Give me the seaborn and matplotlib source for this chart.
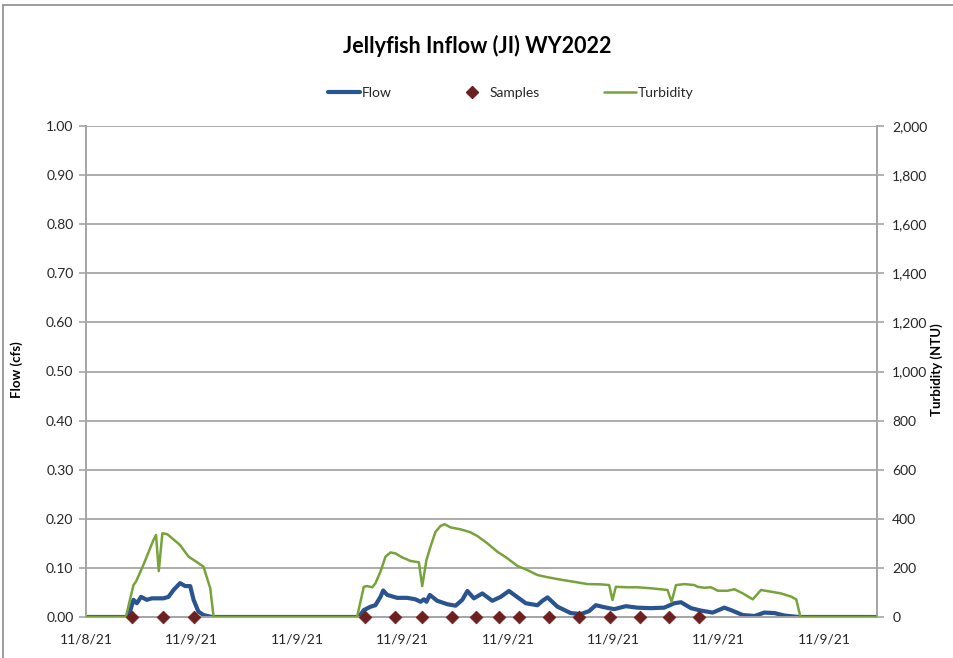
import numpy as np
import pandas as pd
import matplotlib
matplotlib.use("Agg")
import matplotlib.pyplot as plt
from matplotlib.lines import Line2D
from matplotlib.ticker import MultipleLocator, FuncFormatter
import seaborn as sns


# DATA (x = hours from axis start)

flow_t = [0.0, 2.01, 2.25, 2.41, 2.61, 2.88, 3.12, 3.67, 3.91, 4.15, 4.46, 4.70, 4.94,
          5.10, 5.33, 5.57, 5.97, 12.93, 13.17, 13.49, 13.72, 13.96, 14.09, 14.28, 14.75,
          15.23, 15.62, 15.86, 16.02, 16.14, 16.30, 16.65, 17.13, 17.52, 17.84, 18.08,
          18.39, 18.79, 19.26, 19.66, 20.05, 20.37, 20.85, 21.40, 21.64, 21.88, 22.35,
          22.98, 23.46, 23.85, 24.17, 24.56, 25.04, 25.59, 26.15, 26.78, 27.41, 27.89,
          28.21, 28.68, 29.16, 29.71, 30.26, 30.58, 31.14, 31.69, 32.16, 32.64, 33.11,
          33.78, 37.5]
flow_cfs = [0.0, 0.0, 0.035, 0.028, 0.041, 0.035, 0.038, 0.038, 0.041, 0.055, 0.069, 0.063,
            0.063, 0.035, 0.011, 0.004, 0.0, 0.0, 0.014, 0.021, 0.024, 0.041, 0.054, 0.045,
            0.039, 0.039, 0.036, 0.031, 0.036, 0.031, 0.045, 0.033, 0.026, 0.023, 0.035,
            0.053, 0.038, 0.048, 0.033, 0.041, 0.053, 0.043, 0.028, 0.024, 0.033, 0.040,
            0.021, 0.008, 0.006, 0.012, 0.024, 0.020, 0.016, 0.022, 0.019, 0.018, 0.019,
            0.028, 0.030, 0.018, 0.013, 0.009, 0.019, 0.014, 0.004, 0.002, 0.009, 0.008,
            0.003, 0.0, 0.0]

turb_t = [0.0, 1.89, 2.25, 2.37, 2.72, 3.20, 3.32, 3.45, 3.62, 3.86, 4.46, 4.86, 5.18,
          5.57, 5.89, 6.05, 12.85, 13.17, 13.33, 13.57, 13.72, 13.96, 14.20, 14.44, 14.67,
          14.99, 15.39, 15.78, 15.94, 16.14, 16.33, 16.57, 16.81, 17.00, 17.28, 17.76,
          18.23, 18.55, 19.03, 19.50, 19.98, 20.45, 20.93, 21.40, 21.88, 22.51, 23.30,
          23.78, 24.41, 24.80, 24.96, 25.12, 25.67, 26.15, 26.78, 27.57, 27.76, 27.97,
          28.36, 28.84, 29.00, 29.31, 29.63, 29.95, 30.42, 30.74, 31.14, 31.61, 32.00,
          32.48, 32.95, 33.43, 33.67, 33.87, 37.5]
turb_ntu = [0, 0, 130, 144, 212, 314, 334, 187, 341, 337, 293, 246, 228, 205, 117, 0,
            0, 123, 126, 121, 137, 185, 246, 263, 259, 243, 228, 223, 126, 232, 286, 347,
            371, 378, 365, 357, 345, 330, 300, 266, 239, 208, 191, 171, 162, 152, 141,
            134, 133, 130, 69, 123, 121, 121, 117, 110, 62, 130, 134, 130, 123, 119, 121,
            107, 107, 113, 96, 72, 110, 103, 96, 83, 72, 0, 0]

sample_t = [2.18, 3.63, 5.10, 13.25, 14.67, 15.94, 17.37, 18.47, 19.58, 20.53, 21.95,
            23.36, 24.83, 26.26, 27.65, 29.07]

x_labels = ["11/8/21", "11/9/21", "11/9/21", "11/9/21", "11/9/21", "11/9/21",
            "11/9/21", "11/9/21"]

flow_df = pd.DataFrame({"t": flow_t, "flow": flow_cfs})
turb_df = pd.DataFrame({"t": turb_t, "turb": turb_ntu})
samp_df = pd.DataFrame({"t": sample_t, "y": [0.0] * len(sample_t)})


# STYLE

sns.set_style("white")
plt.rcParams["font.family"] = ["Lato", "DejaVu Sans"]

FLOW_C = "#2a5490"
TURB_C = "#77a33a"
SAMP_C = "#6e1f1f"
GRID_C = "#a6a6a6"
TEXT_C = "#262626"

fig = plt.figure(figsize=(9.54, 6.58), dpi=100)
ax = fig.add_axes([86 / 954, 1 - 617 / 658, (877 - 86) / 954, (617 - 126) / 658])
ax2 = ax.twinx()

sns.lineplot(data=flow_df, x="t", y="flow", ax=ax, color=FLOW_C, linewidth=3, zorder=3)
# samples sit on zero; drawn on the turbidity axis (0 NTU == 0 cfs)
sns.scatterplot(data=samp_df, x="t", y="y", ax=ax2, marker="D", s=42, color=SAMP_C,
                edgecolor=SAMP_C, zorder=5, clip_on=False)
sns.lineplot(data=turb_df, x="t", y="turb", ax=ax2, color=TURB_C, linewidth=1.8, zorder=4)

ax.set_xlim(0, 37.5)
ax.set_ylim(0, 1.0)
ax2.set_ylim(0, 2000)

ax.yaxis.set_major_locator(MultipleLocator(0.1))
ax.yaxis.set_major_formatter(FuncFormatter(lambda v, p: f"{v:.2f}"))
ax2.yaxis.set_major_locator(MultipleLocator(200))
ax2.yaxis.set_major_formatter(FuncFormatter(lambda v, p: f"{int(v):,}"))

ax.set_xticks(np.arange(0, 36, 5))
ax.set_xticklabels(x_labels)
ax.xaxis.set_minor_locator(MultipleLocator(1))

ax.grid(axis="y", color=GRID_C, linewidth=1.3)
ax.set_axisbelow(True)

for a in (ax, ax2):
    for s in a.spines.values():
        s.set_color(GRID_C)
        s.set_linewidth(1.3)
    a.spines["top"].set_visible(False)
    a.set_xlabel("")
    a.set_ylabel("")

ax.tick_params(axis="both", which="major", direction="out", length=5, width=1.2,
               color=GRID_C, labelsize=10, labelcolor=TEXT_C, pad=4)
ax.tick_params(axis="x", which="minor", direction="out", length=3, width=1,
               color=GRID_C)
ax.tick_params(axis="x", which="major", length=6, pad=6)
ax2.tick_params(axis="y", direction="out", length=5, width=1.2, color=GRID_C,
                labelsize=10, labelcolor=TEXT_C, pad=6)

fig.text(17 / 954, 1 - 370 / 658, "Flow (cfs)", rotation=90, ha="center", va="center",
         fontsize=9.5, fontweight="bold", color="black")
fig.text(937 / 954, 1 - 370 / 658, "Turbidity (NTU)", rotation=90, ha="center",
         va="center", fontsize=9.5, fontweight="bold", color="black")

fig.text(477 / 954, 1 - 46 / 658, "Jellyfish Inflow (JI) WY2022", ha="center",
         va="center", fontsize=15.5, fontweight="bold", color="black")

handles = [
    Line2D([], [], color=FLOW_C, linewidth=3),
    Line2D([], [], color=SAMP_C, marker="D", markersize=6, linestyle="none"),
    Line2D([], [], color=TURB_C, linewidth=1.8),
]
fig.legend(handles, ["Flow", "Samples", "Turbidity"], loc="center",
           bbox_to_anchor=(511 / 954, 1 - 93 / 658), ncol=3, frameon=False,
           fontsize=10, handlelength=2.3, handletextpad=0.15, columnspacing=4.6,
           labelcolor=TEXT_C)

# outer chart border (top and left edges visible in the reference)
fig.add_artist(Line2D([3 / 954, 3 / 954], [0, 1 - 5 / 658], transform=fig.transFigure,
                      color="#8c8c8c", linewidth=1.2))
fig.add_artist(Line2D([3 / 954, 1], [1 - 5 / 658, 1 - 5 / 658], transform=fig.transFigure,
                      color="#8c8c8c", linewidth=1.2))

fig.savefig("out.png", dpi=100)
